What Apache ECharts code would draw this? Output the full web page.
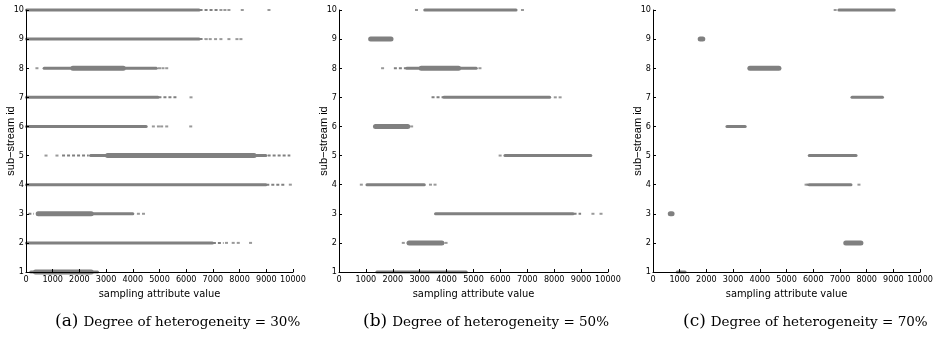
<!DOCTYPE html>
<html>
<head>
<meta charset="utf-8">
<script src="https://cdn.jsdelivr.net/npm/echarts@6/dist/echarts.min.js"></script>
<style>
html, body { margin: 0; padding: 0; background: #fff; }
#main { width: 936px; height: 340px; }
</style>
</head>
<body>
<div id="main"></div>
<script>
// sub-stream id ticks and x ticks
var streamIds = [1, 2, 3, 4, 5, 6, 7, 8, 9, 10];
var xTicks = [0, 1000, 2000, 3000, 4000, 5000, 6000, 7000, 8000, 9000, 10000];
var captions = ['(a)', '(b)', '(c)'];
var degrees = ['30%', '50%', '70%'];

// [stream id, from, to] : main band of sampled values
var bandA = [[10, 0, 6500], [9, 0, 6500], [8, 660, 4900], [7, 0, 4960], [6, 0, 4520],
	[5, 2400, 9000], [4, 0, 9000], [3, 410, 4020], [2, 0, 7000], [1, 160, 2700]];
// densest part of a band
var coreA = [[8, 1700, 3700], [3, 400, 2500], [5, 3000, 8600], [1, 300, 2500]];
// thin, scattered part
var sparseA = [[10, 6500, 7200], [9, 6500, 6700], [7, 4960, 5700], [5, 1350, 2350], [5, 9050, 9900],
	[4, 9000, 9700], [2, 7000, 7400], [3, 90, 300]];
// single outliers [stream id, value]
var dotsA = [[10, 7300], [10, 7450], [10, 7600], [10, 8100], [10, 9100],
	[9, 6750], [9, 6900], [9, 7100], [9, 7300], [9, 7600], [9, 7900], [9, 8050],
	[8, 410], [8, 5000], [8, 5130], [8, 5270], [7, 6180],
	[6, 4770], [6, 4960], [6, 5080], [6, 5270], [6, 6170],
	[5, 750], [5, 1160], [4, 9900], [3, 4210], [3, 4400],
	[2, 7510], [2, 7760], [2, 7950], [2, 8410]];

var bandB = [[10, 3170, 6600], [8, 2500, 5120], [7, 3880, 7850], [5, 6150, 9380], [4, 1020, 3190],
	[3, 3570, 8720], [2, 2550, 3880], [1, 1390, 4750]];
var coreB = [[9, 1120, 1990], [6, 1300, 2610], [8, 3000, 4500], [2, 2550, 3880]];
var sparseB = [[8, 2040, 2510], [7, 3440, 3880], [3, 8720, 9000]];
var dotsB = [[10, 2880], [10, 6820], [8, 1620], [8, 5240], [7, 8040], [7, 8220], [6, 2700],
	[5, 5990], [4, 830], [4, 3400], [4, 3570], [3, 9440], [3, 9740], [2, 2390], [2, 3980]];

var bandC = [[10, 6940, 9050], [7, 7430, 8610], [6, 2750, 3470], [5, 5830, 7620], [4, 5830, 7430], [1, 890, 1220]];
var coreC = [[9, 1710, 1920], [8, 3570, 4770], [3, 590, 770], [2, 7160, 7840]];
var sparseC = [[4, 5750, 5830]];
var dotsC = [[10, 6820], [4, 5730], [4, 7710]];

var gray = '#808080';
var tickFont = '"Liberation Sans Narrow", "DejaVu Sans Condensed", "Liberation Sans", sans-serif';

function capsule(h) {
	return function (params, api) {
		var s = api.coord([api.value(1), api.value(0)]);
		var e = api.coord([api.value(2), api.value(0)]);
		return {
			type: 'rect',
			shape: { x: s[0] - 1, y: s[1] - h / 2, width: e[0] - s[0] + 2, height: h, r: h / 2 },
			style: { fill: gray }
		};
	};
}

function dashed(params, api) {
	var s = api.coord([api.value(1), api.value(0)]);
	var e = api.coord([api.value(2), api.value(0)]);
	return {
		type: 'line',
		shape: { x1: s[0], y1: s[1], x2: e[0], y2: e[1] },
		style: { stroke: gray, lineWidth: 2, lineDash: [3, 2] }
	};
}

var grids = [
	{ left: 26, right: 643, top: 10, bottom: 68 },
	{ left: 339, right: 328, top: 10, bottom: 68 },
	{ left: 653, right: 14, top: 10, bottom: 68 }
];
var sets = [
	[bandA, coreA, sparseA, dotsA],
	[bandB, coreB, sparseB, dotsB],
	[bandC, coreC, sparseC, dotsC]
];
var capX = [55, 363, 683];

var xAxes = [], yAxes = [], series = [], titles = [];
for (var i = 0; i < 3; i++) {
	xAxes.push({
		gridIndex: i, type: 'value', min: xTicks[0], max: xTicks[xTicks.length - 1], interval: 1000,
		name: 'sampling attribute value', nameLocation: 'middle', nameGap: 17, nameMoveOverlap: false,
		nameTextStyle: { fontFamily: tickFont, fontSize: 11, color: '#000' },
		axisLine: { lineStyle: { color: '#000', width: 1 } },
		axisTick: { inside: true, length: 3, lineStyle: { color: '#000' } },
		axisLabel: { fontFamily: tickFont, fontSize: 9, color: '#000', margin: 3,
			showMinLabel: true, showMaxLabel: true, hideOverlap: false,
			formatter: function (v) { return String(v); } },
		splitLine: { show: false },
		z: 5
	});
	yAxes.push({
		gridIndex: i, type: 'value', min: streamIds[0], max: streamIds[streamIds.length - 1], interval: 1,
		name: 'sub\u2212stream id', nameLocation: 'middle', nameGap: 10, nameMoveOverlap: false,
		nameTextStyle: { fontFamily: 'Liberation Sans, sans-serif', fontSize: 11, color: '#000' },
		axisLine: { lineStyle: { color: '#000', width: 1 } },
		axisTick: { inside: true, length: 3, lineStyle: { color: '#000' } },
		axisLabel: { fontFamily: tickFont, fontSize: 9, color: '#000', margin: 2 },
		splitLine: { show: false },
		z: 5
	});
	var d = sets[i];
	series.push({ type: 'custom', xAxisIndex: i, yAxisIndex: i, renderItem: capsule(3),
		encode: { x: [1, 2], y: 0 }, data: d[0], silent: true });
	series.push({ type: 'custom', xAxisIndex: i, yAxisIndex: i, renderItem: capsule(5),
		encode: { x: [1, 2], y: 0 }, data: d[1], silent: true });
	series.push({ type: 'custom', xAxisIndex: i, yAxisIndex: i, renderItem: dashed,
		encode: { x: [1, 2], y: 0 }, data: d[2], silent: true });
	series.push({ type: 'scatter', xAxisIndex: i, yAxisIndex: i, symbol: 'rect', symbolSize: [3, 2],
		itemStyle: { color: gray }, encode: { x: 1, y: 0 }, data: d[3], silent: true });
	titles.push({
		left: capX[i], top: 313, padding: 0,
		text: '{p|' + captions[i] + '} {t|Degree of heterogeneity = ' + degrees[i] + '}',
		textStyle: {
			fontWeight: 'normal',
			rich: {
				p: { fontFamily: 'DejaVu Serif, serif', fontSize: 17, fontWeight: 'normal', color: '#000' },
				t: { fontFamily: 'DejaVu Serif, serif', fontSize: 13.5, fontWeight: 'normal', color: '#000' }
			}
		}
	});
}

var myChart = echarts.init(document.getElementById('main'));
myChart.setOption({
	animation: false,
	title: titles,
	grid: grids,
	xAxis: xAxes,
	yAxis: yAxes,
	series: series
});
</script>
</body>
</html>
